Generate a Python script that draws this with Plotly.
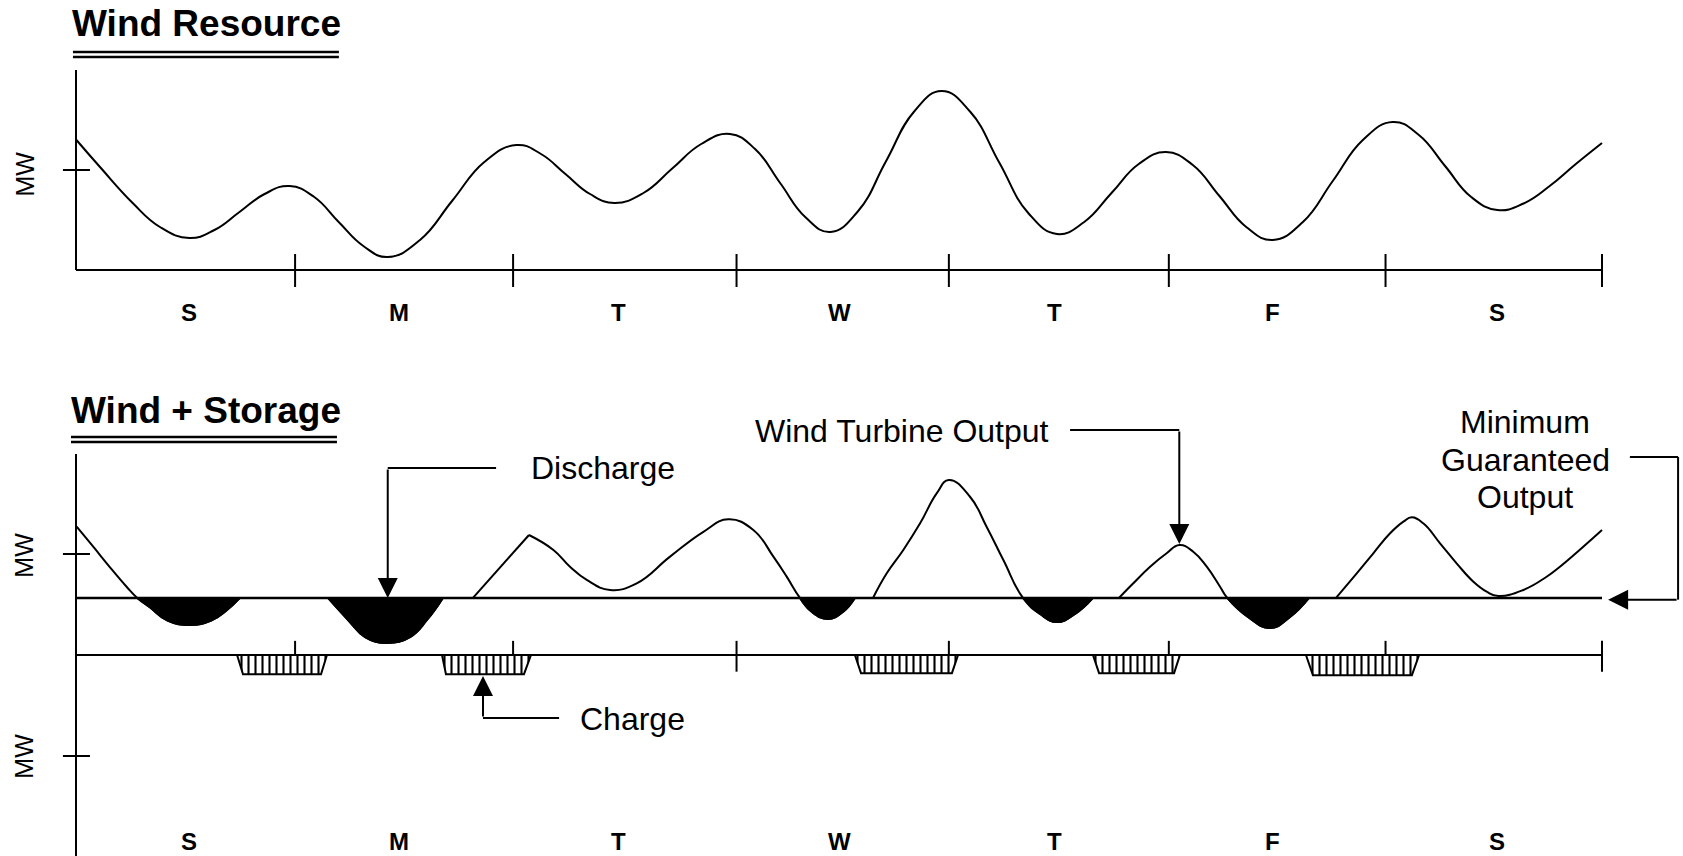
import plotly.graph_objects as go

# ---------------- data ----------------
DAY_LABELS = ["S", "M", "T", "W", "T", "F", "S"]
DAY_BOUNDS = [1.005, 2.005, 3.03, 4.004, 5.013, 6.007, 7.0]      # day dividers (ticks)
DAY_LABEL_POS = [0.52, 1.48, 2.49, 3.5, 4.49, 5.49, 6.52]

# Wind resource (top panel): x in days, y in MW (relative units)
wind_x = [0.00, 0.11, 0.26, 0.385, 0.52, 0.635, 0.75, 0.865, 0.98, 1.093, 1.205, 1.318,
          1.43, 1.578, 1.725, 1.873, 2.02, 2.133, 2.245, 2.358, 2.47, 2.603, 2.735, 2.868,
          3.00, 3.115, 3.23, 3.345, 3.46, 3.588, 3.715, 3.843, 3.97, 4.103, 4.235, 4.368,
          4.50, 4.625, 4.75, 4.875, 5.00, 5.123, 5.245, 5.368, 5.49, 5.628, 5.765, 5.903,
          6.04, 6.16, 6.28, 6.40, 6.52, 6.64, 6.76, 6.88, 7.00]
wind_y = [1.305, 1.03, 0.67, 0.43, 0.32, 0.40, 0.58, 0.76, 0.84, 0.73, 0.48, 0.24,
          0.13, 0.30, 0.69, 1.08, 1.25, 1.16, 0.96, 0.76, 0.67, 0.77, 1.015, 1.26,
          1.36, 1.21, 0.87, 0.53, 0.38, 0.59, 1.085, 1.58, 1.79, 1.58, 1.075, 0.57,
          0.36, 0.48, 0.77, 1.06, 1.18, 1.05, 0.74, 0.43, 0.30, 0.48, 0.89, 1.30,
          1.48, 1.35, 1.04, 0.73, 0.60, 0.665, 0.84, 1.06, 1.27]

MIN_OUTPUT = 0.565  # minimum guaranteed output (bottom panel)

# Wind + storage output (bottom panel): curve pieces between stretches held at the minimum
out1_x = [0.003, 0.079, 0.156, 0.232, 0.281, 0.34, 0.42, 0.523, 0.62, 0.69, 0.752]
out1_y = [1.27, 1.072, 0.868, 0.676, 0.565, 0.47, 0.34, 0.297, 0.34, 0.44, 0.565]
out2_x = [1.156, 1.248, 1.326, 1.427, 1.532, 1.610, 1.683]
out2_y = [0.565, 0.347, 0.178, 0.119, 0.178, 0.347, 0.565]
ramp_x = [1.821, 2.078]
ramp_y = [0.565, 1.188]
out3_x = [2.078, 2.19, 2.266, 2.343, 2.45, 2.572, 2.725, 2.878, 2.992, 3.107, 3.199,
          3.26, 3.321, 3.376, 3.45, 3.518, 3.573]
out3_y = [1.188, 1.04, 0.874, 0.743, 0.644, 0.71, 0.974, 1.22, 1.343, 1.238, 0.974,
          0.776, 0.565, 0.426, 0.356, 0.426, 0.565]
out4_x = [3.656, 3.719, 3.795, 3.872, 3.948, 4.004, 4.101, 4.177, 4.254, 4.344, 4.422,
          4.500, 4.583, 4.665]
out4_y = [0.565, 0.809, 1.04, 1.304, 1.60, 1.733, 1.567, 1.27, 0.94, 0.565, 0.406,
          0.327, 0.406, 0.565]
out5_x = [4.784, 4.85, 4.927, 5.003, 5.061, 5.125, 5.187, 5.248, 5.281, 5.376, 5.477,
          5.569, 5.656]
out5_y = [0.565, 0.71, 0.874, 1.007, 1.089, 1.023, 0.874, 0.676, 0.565, 0.376, 0.267,
          0.376, 0.565]
out6_x = [5.78, 5.875, 5.951, 6.028, 6.089, 6.127, 6.18, 6.257, 6.333, 6.41, 6.471,
          6.524, 6.639, 6.746, 6.807, 7.0]
out6_y = [0.565, 0.809, 1.007, 1.205, 1.32, 1.363, 1.304, 1.106, 0.908, 0.726, 0.627,
          0.584, 0.644, 0.775, 0.874, 1.238]

# Charging periods (hatched blocks under the axis)
charge_top_start = [0.739, 1.679, 3.573, 4.665, 5.642]
charge_top_end = [1.151, 2.087, 4.046, 5.064, 6.161]
charge_bot_start = [0.766, 1.697, 3.601, 4.693, 5.674]
charge_bot_end = [1.124, 2.055, 4.018, 5.037, 6.128]
charge_depth = [0.19, 0.19, 0.18, 0.18, 0.20]

# ---------------- layout geometry ----------------
W, H = 1683, 856
X0_PX, PX_PER_DAY = 76, 218
TOP_ZERO_PX, TOP_PX_PER_MW = 270, 100
BOT_ZERO_PX, BOT_PX_PER_MW = 655, 101

x_range = [-X0_PX / PX_PER_DAY, (W - X0_PX) / PX_PER_DAY]
y_range = [(TOP_ZERO_PX - H) / TOP_PX_PER_MW, TOP_ZERO_PX / TOP_PX_PER_MW]
y2_range = [(BOT_ZERO_PX - H) / BOT_PX_PER_MW, BOT_ZERO_PX / BOT_PX_PER_MW]

FONT = "Liberation Sans, Arial, Helvetica, sans-serif"
LW = 2
LABEL_SIZE = 32
SMOOTH = 1.3

fig = go.Figure()

# top: wind resource
fig.add_trace(go.Scatter(x=wind_x, y=wind_y, mode="lines", yaxis="y",
                         line=dict(color="black", width=LW, shape="spline", smoothing=SMOOTH),
                         hoverinfo="skip"))

# bottom: minimum guaranteed output line
fig.add_trace(go.Scatter(x=[0, 7], y=[MIN_OUTPUT, MIN_OUTPUT], mode="lines", yaxis="y2",
                         line=dict(color="black", width=2.5), hoverinfo="skip"))

# charge blocks
for ts, te, bs, be, d in zip(charge_top_start, charge_top_end, charge_bot_start,
                             charge_bot_end, charge_depth):
    fig.add_trace(go.Scatter(
        x=[ts, te, be, bs, ts], y=[0, 0, -d, -d, 0], mode="lines", yaxis="y2",
        fill="toself", fillcolor="white",
        fillpattern=dict(shape="|", size=7, solidity=0.3, fgcolor="black",
                         bgcolor="white", fillmode="replace"),
        line=dict(color="black", width=LW), hoverinfo="skip"))

# output curves
segments = [(out1_x, out1_y), (out2_x, out2_y), (out3_x, out3_y),
            (out4_x, out4_y), (out5_x, out5_y), (out6_x, out6_y)]
for sx, sy in segments:
    fig.add_trace(go.Scatter(x=sx, y=sy, mode="lines", yaxis="y2",
                             line=dict(color="black", width=LW, shape="spline",
                                       smoothing=SMOOTH),
                             hoverinfo="skip"))
fig.add_trace(go.Scatter(x=ramp_x, y=ramp_y, mode="lines", yaxis="y2",
                         line=dict(color="black", width=LW), hoverinfo="skip"))


def below_runs(xs, ys, level):
    runs, cur = [], []
    for x, y in zip(xs, ys):
        if y <= level + 1e-9:
            cur.append((x, y))
        else:
            if len(cur) >= 3:
                runs.append(cur)
            cur = []
    if len(cur) >= 3:
        runs.append(cur)
    return runs


# discharge areas (black)
for sx, sy in segments:
    for run in below_runs(sx, sy, MIN_OUTPUT):
        fig.add_trace(go.Scatter(x=[p[0] for p in run], y=[p[1] for p in run],
                                 mode="lines", yaxis="y2", fill="toself", fillcolor="black",
                                 line=dict(color="black", width=LW, shape="spline",
                                           smoothing=SMOOTH),
                                 hoverinfo="skip"))


# ---------------- axes drawn as lines ----------------
def seg(x0, y0, x1, y1, yref="y", width=LW, layer="below"):
    return dict(type="line", xref="x", yref=yref, x0=x0, y0=y0, x1=x1, y1=y1,
                line=dict(color="black", width=width), layer=layer)


shapes = []
# top panel axes
shapes.append(seg(0, 0, 0, 2.0))
shapes.append(seg(0, 0, 7, 0))
for d in DAY_BOUNDS:
    shapes.append(seg(d, -0.17, d, 0.16))
shapes.append(seg(-0.06, 1, 0.064, 1))
# bottom panel axes
shapes.append(seg(0, -2.05, 0, 1.99, "y2"))
shapes.append(seg(0, 0, 7, 0, "y2"))
for d in DAY_BOUNDS:
    shapes.append(seg(d, -0.165, d, 0.14, "y2"))
for v in (1, -1):
    shapes.append(seg(-0.06, v, 0.064, v, "y2"))
# title double underlines
for v in (2.18, 2.13):
    shapes.append(seg(-0.014, v, 1.206, v, "y", 2.5, "above"))
for v in (2.158, 2.109):
    shapes.append(seg(-0.023, v, 1.197, v, "y2", 2.5, "above"))

# callout geometry
peak_i = out5_y.index(max(out5_y))
wto_x, wto_y = out5_x[peak_i], out5_y[peak_i]
shapes.append(seg(1.43, 1.851, 1.927, 1.851, "y2", LW, "above"))      # Discharge
shapes.append(seg(1.867, -0.624, 2.216, -0.624, "y2", LW, "above"))   # Charge
shapes.append(seg(4.56, 2.228, wto_x, 2.228, "y2", LW, "above"))      # Wind Turbine Output
shapes.append(seg(7.128, 1.960, 7.349, 1.960, "y2", LW, "above"))     # Minimum Guaranteed
shapes.append(seg(7.349, 1.960, 7.349, 0.548, "y2", LW, "above"))

ann = []


def txt(x, y, text, yref="y", size=LABEL_SIZE, bold=False, xanchor="left", angle=0):
    t = f"<b>{text}</b>" if bold else text
    return dict(x=x, y=y, xref="x", yref=yref, text=t, showarrow=False, xanchor=xanchor,
                yanchor="middle", textangle=angle,
                font=dict(family=FONT, size=size, color="black"))


def arrow(x, y, ax, ay, yref="y2"):
    return dict(x=x, y=y, xref="x", yref=yref, ax=ax, ay=ay, axref="x", ayref=yref,
                text="", showarrow=True, arrowhead=2, arrowsize=2.0, arrowwidth=2,
                arrowcolor="black", standoff=0)


ann.append(txt(-0.0275, 2.465, "Wind Resource", "y", 37, True))
ann.append(txt(-0.032, 2.421, "Wind + Storage", "y2", 37, True))
for c, lab in zip(DAY_LABEL_POS, DAY_LABELS):
    ann.append(txt(c, -0.42, lab, "y", 24, True, "center"))
    ann.append(txt(c, -1.842, lab, "y2", 24, True, "center"))
ann.append(txt(-0.236, 0.96, "MW", "y", 25, False, "center", -90))
ann.append(txt(-0.24, 0.99, "MW", "y2", 25, False, "center", -90))
ann.append(txt(-0.24, -1.0, "MW", "y2", 25, False, "center", -90))

ann.append(txt(2.078, 1.851, "Discharge", "y2"))
ann.append(txt(2.303, -0.634, "Charge", "y2"))
ann.append(txt(4.472, 2.218, "Wind Turbine Output", "y2", xanchor="right"))
ann.append(txt(6.647, 2.307, "Minimum", "y2", xanchor="center"))
ann.append(txt(6.647, 1.931, "Guaranteed", "y2", xanchor="center"))
ann.append(txt(6.647, 1.564, "Output", "y2", xanchor="center"))

ann.append(arrow(1.43, MIN_OUTPUT, 1.43, 1.851))
ann.append(arrow(1.867, -0.208, 1.867, -0.624))
ann.append(arrow(wto_x, wto_y + 0.01, wto_x, 2.228))
ann.append(arrow(7.028, 0.548, 7.349, 0.548))

fig.update_layout(
    width=W, height=H, margin=dict(l=0, r=0, t=0, b=0),
    paper_bgcolor="white", plot_bgcolor="white", showlegend=False,
    xaxis=dict(range=x_range, visible=False, fixedrange=True, domain=[0, 1]),
    yaxis=dict(range=y_range, visible=False, fixedrange=True, domain=[0, 1]),
    yaxis2=dict(range=y2_range, visible=False, fixedrange=True, overlaying="y",
                domain=[0, 1]),
    shapes=shapes, annotations=ann,
)

fig.write_html("out.html", include_plotlyjs=True, full_html=True,
               config={"displayModeBar": False},
               post_script="document.body.style.margin='0px';")
